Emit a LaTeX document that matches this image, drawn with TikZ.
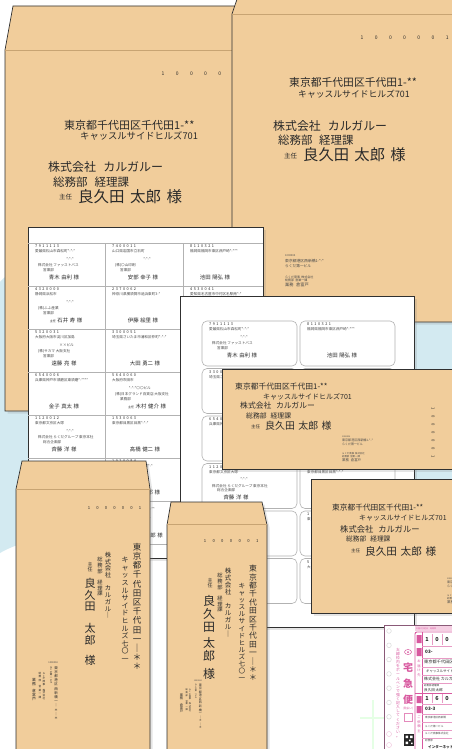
\documentclass[tikz,border=0pt]{standalone}
\usepackage{fontspec}
\setmainfont{Noto Sans CJK JP}
\usetikzlibrary{shadows}

\definecolor{kraft}{HTML}{F1CD9B}
\definecolor{edge}{HTML}{303030}
\definecolor{flapline}{HTML}{C8A473}
\definecolor{ink}{HTML}{2A2A2A}
\definecolor{bgblue}{HTML}{D3EAF1}
\definecolor{rule}{HTML}{B2B2B2}
\definecolor{pinkink}{HTML}{D8589F}
\definecolor{pinklite}{HTML}{F5CFE3}
\definecolor{slipedge}{HTML}{8A5A78}

\newcommand\fs[1]{\fontsize{#1}{#1}\selectfont}
% stack characters for vertical writing
\def\vstk#1{\ifx\relax#1\else\hbox to 1em{\hss#1\hss}\expandafter\vstk\fi}
\newcommand\vcol[2]{\vbox{\baselineskip=#1pt\lineskiplimit=-20pt\lineskip=0pt\vstk#2\relax}}

% one address label: name, x, y, zip, address, name centre, person
\newcommand\lab[7]{%
  \node[zipc] (#1z) at (#2+7,#3+3.5) {#4};
  \node[micro] (#1a) at (#2+7,#3+8.5) {#5};
  \node[lname] (#1n) at (#2+#6,#3+34) {#7};}
% extra lines of a label: name, x, y, building, company, section
\newcommand\labco[6]{%
  \node[micro, anchor=east] (#1b) at (#2+46,#3+16) {#4};
  \node[micro] (#1c) at (#2+10,#3+22.5) {#5};
  \node[micro] (#1d) at (#2+15,#3+27) {#6};}

% sender block, horizontal envelopes
\newcommand\hsend[4]{%
  \begin{scope}[shift={(#2,#3)}, scale=#4, transform shape]
    \node[micro, font=\fs{2.6}] (#1z) at (0,1) {1000004};
    \node[micro, font=\fs{3.8}] (#1a) at (0,6) {東京都港区西新橋1-*-*};
    \node[micro, font=\fs{3.7}] (#1b) at (0,11) {らくだ第一ビル};
    \node[micro, font=\fs{3}] (#1c) at (0,22) {らくだ商事\hspace{.4em}株式会社};
    \node[micro, font=\fs{3}] (#1d) at (0,25.5) {総務部\hspace{.4em}営業一課};
    \node[micro, font=\fs{4.2}] (#1e) at (0,30) {業務\hspace{.6em}倉富戸};
  \end{scope}}

% sender block, vertical envelopes (top right corner)
\newcommand\vsend[4]{%
  \begin{scope}[shift={(#2,#3)}, scale=#4, transform shape]
    \node[micro, anchor=east, font=\fs{2.4}] (#1z) at (0,1) {1000004};
    \node[vt, font=\fs{3.5}] (#1a) at (-2,4) {\vcol{4.2}{東京都港区西新橋一｜＊｜＊}};
    \node[vt, font=\fs{2.5}] (#1b) at (-7,4) {\vcol{2.6}{らくだ第一ビル}};
    \node[vt, font=\fs{2.6}] (#1c) at (-14,10) {\vcol{2.8}{らくだ商事~株式会社}};
    \node[vt, font=\fs{2.6}] (#1d) at (-18,10) {\vcol{3.4}{総務部~営業一課}};
    \node[vt, font=\fs{3.8}] (#1e) at (-24,16) {\vcol{3.8}{業務~倉富戸}};
  \end{scope}}

\begin{document}
\begin{tikzpicture}[x=1pt, y=-1pt,
    env/.style={fill=kraft, draw=edge, line width=.7pt},
    sheet/.style={fill=white, draw=edge, line width=.7pt},
    casts/.style={drop shadow={shadow xshift=2.5pt, shadow yshift=-2.5pt, opacity=.2}},
    flap/.style={draw=flapline, line width=.5pt},
    ad/.style={anchor=west, inner sep=0pt, text=ink},
    vt/.style={anchor=north, inner sep=0pt, text=ink},
    dig/.style={inner sep=0pt, text=ink, font=\fs{5}},
    micro/.style={anchor=west, inner sep=0pt, text=ink!85, font=\fs{3.6}},
    zipc/.style={anchor=west, inner sep=0pt, text=ink, font=\fs{3.8}\addfontfeature{LetterSpace=40}},
    lname/.style={inner sep=0pt, text=ink, font=\fs{5.4}},
    lbox/.style={draw=rule, line width=.6pt, rounded corners=5pt},
    pinktxt/.style={inner sep=0pt, text=pinkink}]

  \useasboundingbox (0,0) rectangle (452,749);
  \clip (0,0) rectangle (452,749);
  \fill[white] (0,0) rectangle (452,749);
  \fill[bgblue] (0,282) .. controls (50,228) and (220,195) .. (340,210)
    .. controls (420,220) and (462,260) .. (470,320) -- (470,505)
    .. controls (350,560) and (80,505) .. (0,553)
    .. controls (-30,470) and (-30,340) .. (0,282) -- cycle;
  \draw[green!10, line width=2pt] (373,700) -- (373,749) (360,718) -- (386,718);

  % long envelope, top left
  \filldraw[env, casts] (13,6) -- (250,6) -- (250,411) -- (5,411) -- (5,50) -- cycle;
  \draw[flap] (5.4,50) -- (250,50);
  \foreach \dd [count=\i from 0] in {1,0,0,0,0,0,1}
    \node[dig] (lz\i) at (163+14.2*\i,74) {\dd};
  \node[ad, font=\fs{11}] (la1) at (64,125) {東京都千代田区千代田1-**};
  \node[ad, font=\fs{9.3}] (la2) at (80,136) {キャッスルサイドヒルズ701};
  \node[ad, font=\fs{12}] (lco) at (48,167) {株式会社\hspace{.6em}カルガルー};
  \node[ad, font=\fs{11.5}] (ldp) at (53,182) {総務部\hspace{.6em}経理課};
  \node[ad, font=\fs{6.5}] (lrk) at (59,197) {主任};
  \node[ad, font=\fs{15.5}] (lnm) at (78,197) {良久田\hspace{.35em}太郎\hspace{.35em}様};

  % long envelope, top right
  \filldraw[env, casts] (237.4,-2) -- (460,-2) -- (460,322) -- (232,322) -- (232,14) -- cycle;
  \draw[flap] (232.4,14) -- (460,14);
  \foreach \dd [count=\i from 0] in {1,0,0,0,0,0,1}
    \node[dig] (rz\i) at (362+14.2*\i,38) {\dd};
  \node[ad, font=\fs{10.8}] (ra1) at (289,82) {東京都千代田区千代田1-**};
  \node[ad, font=\fs{8.8}] (ra2) at (298,94) {キャッスルサイドヒルズ701};
  \node[ad, font=\fs{11.9}] (rco) at (273,126) {株式会社\hspace{.6em}カルガルー};
  \node[ad, font=\fs{11.4}] (rdp) at (278,140) {総務部\hspace{.6em}経理課};
  \node[ad, font=\fs{6.5}] (rrk) at (284,156) {主任};
  \node[ad, font=\fs{15.3}] (rnm) at (303,155) {良久田\hspace{.35em}太郎\hspace{.35em}様};
  \hsend{rs}{285}{255}{1}

  % label sheet, grid
  \filldraw[sheet, casts] (28,227) rectangle (263,558);
  \draw[rule, line width=.5pt] (105,243) -- (105,558) (183,243) -- (183,558);
  \foreach \yy in {243,286,329,372,415,458,501,544}
    \draw[rule, line width=.5pt] (28.4,\yy) -- (262.6,\yy);
  \lab{p11}{28}{243}{7911113}{愛媛県松山市森松町*-*-*}{36}{青木\hspace{.3em}由利\hspace{.3em}様}
  \labco{p11}{28}{243}{*-*-*}{株式会社\ ファッストバス}{営業部}
  \lab{p12}{105}{243}{7400011}{山口県岩国市立石町}{38}{安部\hspace{.3em}幸子\hspace{.3em}様}
  \labco{p12}{105}{243}{*-*-*}{(株)〇山印刷}{営業部}
  \lab{p13}{183}{243}{8110321}{福岡県福岡市東区西戸崎*-***}{32}{池田\hspace{.3em}陽弘\hspace{.3em}様}
  \lab{p21}{28}{286}{4320000}{静岡県浜松市}{38}{{\fs{3}主任}\hspace{.3em}石井\hspace{.3em}寿\hspace{.3em}様}
  \labco{p21}{28}{286}{*-*-*}{(株)ふふ産業}{営業部}
  \lab{p22}{105}{286}{2370062}{神奈川県横須賀市追浜東町3-*}{38}{伊藤\hspace{.3em}絵里\hspace{.3em}様}
  \lab{p23}{183}{286}{4530041}{愛知県名古屋市中村区名駅南*-*}{38}{}
  \lab{p31}{28}{329}{5320031}{大阪府大阪市淀川区加島}{36}{遠藤\hspace{.3em}亮\hspace{.3em}様}
  \labco{p31}{28}{329}{××ビル}{(株)サカマ\ 大阪支社}{営業部}
  \lab{p32}{105}{329}{3300051}{埼玉県さいたま市浦和区仲町*-*-*}{40}{大田\hspace{.3em}勇二\hspace{.3em}様}
  \lab{p41}{28}{372}{6540006}{兵庫県神戸市須磨区東須磨*-****}{36}{金子\hspace{.3em}真太\hspace{.3em}様}
  \lab{p42}{105}{372}{5640060}{大阪府吹田市}{42}{{\fs{3}主任}\hspace{.3em}木村\hspace{.3em}健介\hspace{.3em}様}
  \labco{p42}{105}{372}{*-*-*〇〇ビル}{(株)日本グランド百貨店\ 大阪支社}{業務部}
  \lab{p51}{28}{415}{1120012}{東京都文京区大塚}{36}{斉藤\hspace{.3em}洋\hspace{.3em}様}
  \labco{p51}{28}{415}{*-*-*}{株式会社\ らくだグループ\ 東京本社}{総合企画部}
  \lab{p52}{105}{415}{1530063}{東京都目黒区目黒*-*-*}{40}{高橋\hspace{.3em}健二\hspace{.3em}様}
  \lab{p62}{105}{458}{1020084}{東京都千代田区二番町*-*}{40}{上田\hspace{.3em}一郎\hspace{.3em}様}
  \lab{p72}{105}{501}{1000001}{東京都千代田区千代田1-**}{40}{良久田\hspace{.3em}太郎\hspace{.3em}様}
  \labco{p72}{105}{501}{キャッスルサイドヒルズ701}{株式会社\ カルガルー}{総務部\ 経理課}

  % label sheet, rounded labels
  \filldraw[sheet, casts] (180,296) rectangle (414,627);
  \foreach \k in {0,...,5} {
    \draw[lbox] (202,321+47.5*\k) rectangle ++(95,45);
    \draw[lbox] (300,321+47.5*\k) rectangle ++(95,45);
  }
  \lab{q11}{202}{321}{7911113}{愛媛県松山市森松町*-*-*}{40}{青木\hspace{.3em}由利\hspace{.3em}様}
  \labco{q11}{202}{321}{*-*-*}{株式会社\ ファッストバス}{営業部}
  \lab{q12}{300}{321}{8110321}{福岡県福岡市東区西戸崎*-***}{42}{池田\hspace{.3em}陽弘\hspace{.3em}様}
  \lab{q21}{202}{368.5}{3300051}{埼玉県さいたま市浦和区仲町*-*-*}{45}{大田\hspace{.3em}勇二\hspace{.3em}様}
  \lab{q31}{202}{416}{6540006}{兵庫県神戸市須磨区東須磨*-****}{45}{金子\hspace{.3em}真太\hspace{.3em}様}
  \lab{q41}{202}{463.5}{1120012}{東京都文京区大塚}{34}{斉藤\hspace{.3em}洋\hspace{.3em}様}
  \labco{q41}{202}{463.5}{*-*-*}{株式会社\ らくだグループ\ 東京本社}{総合企画部}
  \lab{q42}{300}{463.5}{1530063}{東京都目黒区目黒*-*-*}{45}{高橋\hspace{.3em}健二\hspace{.3em}様}
  \lab{q51}{202}{511}{2370062}{神奈川県横須賀市追浜東町3-*}{45}{伊藤\hspace{.3em}絵里\hspace{.3em}様}
  \lab{q52}{300}{511}{1000001}{東京都千代田区千代田1-**}{45}{良久田\hspace{.3em}太郎\hspace{.3em}様}
  \lab{q61}{202}{558.5}{7400011}{山口県岩国市立石町}{45}{安部\hspace{.3em}幸子\hspace{.3em}様}
  \lab{q62}{300}{558.5}{5320031}{大阪府大阪市淀川区加島}{45}{遠藤\hspace{.3em}亮\hspace{.3em}様}

  % small envelope A
  \filldraw[env, casts] (222,369) rectangle (460,469);
  \node[ad, font=\fs{7.8}] (aa1) at (235,387) {東京都千代田区千代田1-**};
  \node[ad, font=\fs{7}] (aa2) at (263,397) {キャッスルサイドヒルズ701};
  \node[ad, font=\fs{7.8}] (aco) at (240,406) {株式会社\hspace{.6em}カルガルー};
  \node[ad, font=\fs{6.8}] (adp) at (246,416) {総務部\hspace{.6em}経理課};
  \node[ad, font=\fs{4.5}] (ark) at (251,427) {主任};
  \node[ad, font=\fs{9.9}] (anm) at (265,426) {良久田\hspace{.35em}太郎\hspace{.35em}様};
  \foreach \dd [count=\i from 0] in {1,0,0,0,0,0,1}
    \node[dig, font=\fs{4.2}, rotate=-90] (az\i) at (433,409+8*\i) {\dd};
  \hsend{as}{342}{436}{.8}

  % small envelope B
  \filldraw[env, casts] (311,479) rectangle (460,613);
  \node[ad, font=\fs{7.7}] (ba1) at (332,508) {東京都千代田区千代田1-**};
  \node[ad, font=\fs{6.9}] (ba2) at (359,518) {キャッスルサイドヒルズ701};
  \node[ad, font=\fs{8.3}] (bco) at (340,529) {株式会社\hspace{.6em}カルガルー};
  \node[ad, font=\fs{6.7}] (bdp) at (346,539) {総務部\hspace{.6em}経理課};
  \node[ad, font=\fs{4.5}] (brk) at (351,551) {主任};
  \node[ad, font=\fs{10.6}] (bnm) at (365,551) {良久田\hspace{.35em}太郎\hspace{.35em}様};
  \hsend{bs}{447}{578}{.8}

  % upright envelope C
  \filldraw[env, casts] (22,461) -- (146,461) -- (150,489) -- (150,760) -- (16,760) -- (16,489) -- cycle;
  \draw[flap] (16.4,489) -- (149.6,489);
  \foreach \dd [count=\i from 0] in {1,0,0,0,0,0,1}
    \node[dig, font=\fs{4.2}] (cz\i) at (89+8.5*\i,508) {\dd};
  \node[vt, font=\fs{8.5}] (ca1) at (137,543) {\vcol{9.2}{東京都千代田区千代田一｜＊＊}};
  \node[vt, font=\fs{7}] (ca2) at (125,557) {\vcol{7.6}{キャッスルサイドヒルズ七〇一}};
  \node[vt, font=\fs{6.3}] (cco) at (108,552) {\vcol{6.7}{株式会社~カルガル｜}};
  \node[vt, font=\fs{5.3}] (cdp) at (100,557) {\vcol{5.7}{総務部~経理課}};
  \node[vt, font=\fs{5}] (crk) at (90,562) {\vcol{5.5}{主任}};
  \node[vt, font=\fs{11}] (cn1) at (90,578) {\vcol{11.7}{良久田}};
  \node[vt, font=\fs{11}] (cn2) at (90,623) {\vcol{11.7}{太郎}};
  \node[vt, font=\fs{11}] (cn3) at (90,655) {様};
  \vsend{cs}{58}{662}{1}

  % upright envelope D
  \filldraw[env, casts] (171,502) -- (262,502) -- (267,525) -- (267,760) -- (167,760) -- (167,525) -- cycle;
  \draw[flap] (167.4,524) -- (266.6,524);
  \foreach \dd [count=\i from 0] in {1,0,0,0,0,0,1}
    \node[dig, font=\fs{4.2}] (dz\i) at (205+8.7*\i,541) {\dd};
  \node[vt, font=\fs{7.8}] (da1) at (253,565) {\vcol{8.4}{東京都千代田区千代田一｜＊＊}};
  \node[vt, font=\fs{6.6}] (da2) at (242,583) {\vcol{7.1}{キャッスルサイドヒルズ七〇一}};
  \node[vt, font=\fs{6.5}] (dco) at (228,568) {\vcol{7}{株式会社~カルガル｜}};
  \node[vt, font=\fs{5.3}] (ddp) at (220,573) {\vcol{5.7}{総務部~経理課}};
  \node[vt, font=\fs{5}] (drk) at (210,578) {\vcol{5.5}{主任}};
  \node[vt, font=\fs{12}] (dn1) at (209,595) {\vcol{13}{良久田}};
  \node[vt, font=\fs{12}] (dn2) at (209,637) {\vcol{13}{太郎}};
  \node[vt, font=\fs{12}] (dn3) at (209,668) {様};
  \vsend{ds}{202}{680}{.85}

  % delivery slip
  \filldraw[fill=white, draw=slipedge, line width=.7pt, casts] (384,625) rectangle (460,760);
  \fill[pinklite] (415,626) rectangle (460,631);
  \node[pinktxt, anchor=west, font=\fs{2}] (sh) at (416,628.5) {お届け予定日\quad 時間帯};
  \foreach \k in {0,...,6}
    \draw[black!15, line width=.5pt] (389,631+14.3*\k) circle (2.3pt);
  \foreach \yy in {734,745}
    \draw[pinkink!40, line width=.4pt] (389,\yy) circle (2.5pt);
  \node[pinktxt, anchor=north, font=\fs{3.8}] (sw) at (398,648) {\vcol{4.1}{太線枠内をボールペンで強く記入してください。}};
  \draw[pinkink, line width=.5pt] (408,652) ellipse (3.5pt and 2.5pt);
  \fill[pinkink] (408,652) circle (1pt);
  \node[pinktxt, font=\fs{10}\bfseries] (t1) at (408,668) {宅};
  \node[pinktxt, font=\fs{10}\bfseries] (t2) at (408,684) {急};
  \node[pinktxt, font=\fs{10}\bfseries] (t3) at (408,700) {便};
  \node[pinktxt, font=\fs{2.8}] (t4) at (408,709) {(発払い)};
  \draw[pinkink!70, line width=.4pt] (404,713) rectangle (412,721);
  \fill[black!85] (404,734) rectangle (414,746);
  \fill[white] (405.5,735.5) rectangle ++(2.5,2.5) (410,735.5) rectangle ++(2.5,2.5)
    (405.5,741.5) rectangle ++(2.5,2.5) (409,739.5) rectangle ++(1.5,1.5) (411,742.5) rectangle ++(1.5,1.5);
  \draw[pinkink, line width=.9pt, rounded corners=2pt] (415,632) rectangle (470,770);
  \draw[pinkink, line width=.5pt] (422,632) -- (422,760);
  \foreach \yy in {646,658,667,675,683,704,714,722,730,738}
    \draw[pinkink!60, line width=.4pt] (422,\yy) -- (460,\yy);
  \draw[pinkink, line width=.9pt] (415,693) -- (460,693);
  \fill[pinkink] (416.5,635) rectangle (421.5,643) (416.5,648) rectangle (421.5,656)
    (416.5,696) rectangle (421.5,703) (416.5,706) rectangle (421.5,713);
  \node[pinktxt, anchor=north, font=\fs{3.3}] (s1) at (419,660) {\vcol{4.5}{お届け先}};
  \node[pinktxt, anchor=north, font=\fs{3.3}] (s2) at (419,716) {\vcol{4.5}{ご依頼主}};
  \foreach \dd [count=\i from 0] in {1,0,0} {
    \node[dig, font=\fs{5.5}\bfseries] (sz\i) at (427+10*\i,639) {\dd};
    \draw[pinkink!60, line width=.4pt] (432+10*\i,634) -- (432+10*\i,645);
  }
  \node[ad, font=\fs{4.6}\bfseries] (sp) at (425,652) {03-};
  \node[ad, font=\fs{4.2}] (sa1) at (424,662) {東京都千代田区};
  \node[ad, font=\fs{3.4}] (sa2) at (426,671) {キャッスルサイドヒルズ};
  \node[ad, font=\fs{4}] (sa3) at (424,679) {株式会社\,カルガルー};
  \node[ad, font=\fs{2.4}] (sa4) at (424,686) {総務部\,経理課};
  \node[ad, font=\fs{3.6}] (sa5) at (424,690) {良久田\,太郎};
  \foreach \dd [count=\i from 0] in {1,6,0} {
    \node[dig, font=\fs{5.5}\bfseries] (sy\i) at (427+10*\i,698) {\dd};
    \draw[pinkink!60, line width=.4pt] (432+10*\i,694) -- (432+10*\i,703);
  }
  \node[ad, font=\fs{4.6}\bfseries] (sq) at (425,709) {03-3};
  \node[micro, font=\fs{2.6}] (sb1) at (425,718) {東京都港区西新橋};
  \node[micro, font=\fs{2.6}] (sb2) at (425,726) {らくだ第一ビル};
  \node[micro, font=\fs{2.6}] (sb3) at (425,734) {らくだ商事株式会社};
  \node[micro, font=\fs{2.6}] (sb4) at (425,741) {総務部};
  \node[ad, font=\fs{3.6}\bfseries] (sn) at (428,747) {インターネット};
\end{tikzpicture}
\end{document}
